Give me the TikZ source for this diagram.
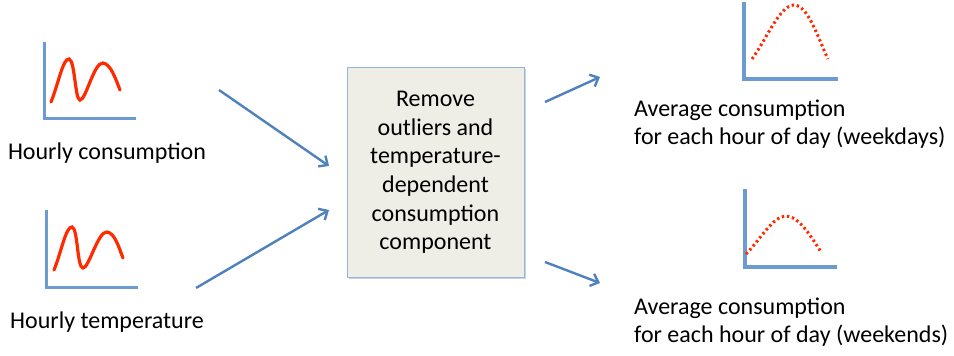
\documentclass[tikz,border=0pt]{standalone}
\usepackage{fontspec}
\setmainfont{Carlito}
\usepackage{xcolor}
\usepackage{tikz}
\usetikzlibrary{positioning, arrows.meta, shadows}
\definecolor{axisblue}{HTML}{6B9BD1}
\definecolor{arrowblue}{HTML}{4F81BD}
\definecolor{boxfill}{HTML}{EEEDE6}
\definecolor{boxline}{HTML}{8EB4E3}
\definecolor{curvered}{HTML}{FF2A00}
\tikzstyle{line} = [draw=arrowblue, line width=2.4pt, -{Straight Barb[length=7pt,width=13pt,line width=2.4pt]}]
\tikzstyle{block} = [rectangle, draw=boxline, line width=1pt, fill=boxfill,
    minimum width=177pt, minimum height=210pt, align=center,
    font=\fontsize{24}{28.6}\selectfont,
    drop shadow={shadow xshift=1.5pt, shadow yshift=-1.5pt, opacity=0.35}]
\tikzstyle{axis} = [draw=axisblue, line width=3pt]
\tikzstyle{wave} = [draw=curvered, line width=3.2pt, line cap=round]
\tikzstyle{avg} = [draw=curvered, line width=3pt, dash pattern=on 2.4pt off 2.8pt]
\tikzstyle{label} = [align=left, inner sep=0pt]

\begin{document}
\begin{tikzpicture}[x=1pt, y=-1pt, font=\fontsize{24}{28}\selectfont]
        \useasboundingbox (0,0) rectangle (954,356);
        % Place nodes
        \node [block] (remove) at (435.5,172.5) {Remove\\outliers and\\temperature-\\dependent\\consumption\\component};
        \node [label, align=center] (hcons) at (107,153) {Hourly consumption};
        \node [label, align=center] (htemp) at (107,322) {Hourly temperature};
        \node [label, anchor=west] (wkday) at (634,124) {Average consumption\\for each hour of day (weekdays)};
        \node [label, anchor=west] (wkend) at (634,322) {Average consumption\\for each hour of day (weekends)};
        % Small charts on the left
        \draw [axis] (44,42) -- (44,118) -- (136,118);
        \draw [wave] (51,102) .. controls (58,85) and (63,58) .. (69,59)
            .. controls (75,60) and (75,100) .. (80,100)
            .. controls (86,100) and (94,62) .. (103,63)
            .. controls (111,64) and (116,80) .. (120,90);
        \draw [axis] (46,210) -- (46,287) -- (138,287);
        \draw [wave] (54,270) .. controls (61,253) and (66,226) .. (72,227)
            .. controls (78,228) and (77,268) .. (83,268)
            .. controls (89,268) and (98,231) .. (107,232)
            .. controls (115,233) and (119,248) .. (123,258);
        % Small charts on the right
        \draw [axis, line width=4pt] (744,2) -- (744,79) -- (838,79);
        \draw [avg] (752,59) .. controls (766,40) and (780,5) .. (794,5)
            .. controls (808,5) and (818,38) .. (828,59);
        \draw [axis, line width=4pt] (745,189) -- (745,267) -- (837,267);
        \draw [avg] (746,254) .. controls (760,240) and (773,216) .. (786,216)
            .. controls (799,216) and (812,238) .. (821,252);
        % Arrow ends
        \coordinate (in1) at (219,90);
        \coordinate (in2) at (196,288);
        \coordinate (hit1) at (329,166);
        \coordinate (hit2) at (329,210);
        \coordinate (out1) at (545,102);
        \coordinate (out2) at (545,262);
        \coordinate (to1) at (600,77);
        \coordinate (to2) at (600,283);
        % Draw edges
        \path [line] (in1) -- (hit1);
        \path [line] (in2) -- (hit2);
        \path [line] (out1) -- (to1);
        \path [line] (out2) -- (to2);
\end{tikzpicture}
\end{document}
